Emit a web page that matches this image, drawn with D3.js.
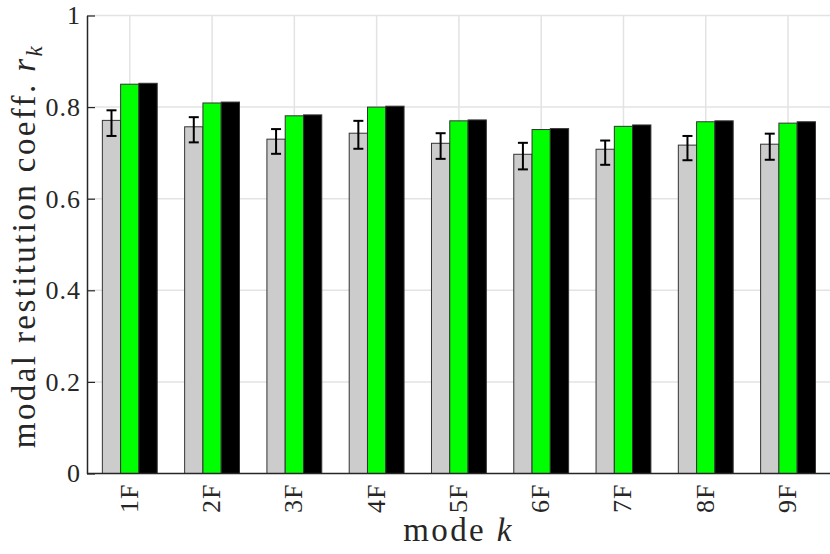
<!DOCTYPE html>
<html>
<head>
<meta charset="utf-8">
<script src="https://cdn.jsdelivr.net/npm/d3@7"></script>
<style>
  html, body { margin: 0; padding: 0; background: #fff; }
  svg { display: block; }
</style>
</head>
<body>
<svg id="chart" width="830" height="554"></svg>
<script>
// ---- data ----
const categories = ["1F", "2F", "3F", "4F", "5F", "6F", "7F", "8F", "9F"];
const grayValues  = [0.771, 0.757, 0.730, 0.743, 0.721, 0.697, 0.708, 0.717, 0.719];
const grayErrLow  = [0.737, 0.723, 0.698, 0.709, 0.687, 0.664, 0.674, 0.684, 0.685];
const grayErrHigh = [0.793, 0.778, 0.752, 0.770, 0.743, 0.722, 0.727, 0.737, 0.742];
const greenValues = [0.850, 0.809, 0.781, 0.800, 0.770, 0.751, 0.758, 0.768, 0.765];
const blackValues = [0.852, 0.811, 0.783, 0.802, 0.772, 0.753, 0.761, 0.770, 0.768];
const yTicks = [0, 0.2, 0.4, 0.6, 0.8, 1];
const yTickLabels = ["0", "0.2", "0.4", "0.6", "0.8", "1"];
const seriesNames = ["gray", "green", "black"];
const seriesColors = ["#cccccc", "#00ff00", "#000000"];

// ---- layout ----
const FONT = "'Liberation Serif', 'Times New Roman', serif";
const mLeft = 87, mRight = 830, mTop = 15.5, mBottom = 473.5;
const svg = d3.select("#chart");

const x = d3.scaleLinear().domain([0.48, 9.51]).range([mLeft, mRight]);
const y = d3.scaleLinear().domain([0, 1]).range([mBottom, mTop]);
const sub = d3.scaleBand().domain(seriesNames).range([-1/3, 1/3]).padding(0);

const series = [grayValues, greenValues, blackValues];

// grid
const grid = svg.append("g");
grid.selectAll("line.h").data(yTicks.filter(t => t > 0)).enter().append("line")
  .attr("x1", mLeft).attr("x2", mRight)
  .attr("y1", d => y(d)).attr("y2", d => y(d))
  .attr("stroke", "#e3e3e3").attr("stroke-width", 1.5);
grid.selectAll("line.v").data(categories).enter().append("line")
  .attr("x1", (d, i) => x(i + 1)).attr("x2", (d, i) => x(i + 1))
  .attr("y1", mTop).attr("y2", mBottom)
  .attr("stroke", "#e3e3e3").attr("stroke-width", 1.5);

// bars
const unit = x(1) - x(0);
seriesNames.forEach((name, s) => {
  svg.append("g").selectAll("rect").data(series[s]).enter().append("rect")
    .attr("x", (d, i) => x(i + 1 + sub(name)))
    .attr("width", sub.bandwidth() * unit)
    .attr("y", d => y(d))
    .attr("height", d => y(0) - y(d))
    .attr("fill", seriesColors[s])
    .attr("stroke", "#333333")
    .attr("stroke-width", 1);
});

// error bars on gray series
const eb = svg.append("g").attr("stroke", "#000").attr("stroke-width", 2);
const cap = 5;
categories.forEach((c, i) => {
  const cx = x(i + 1 + sub("gray") + sub.bandwidth() / 2);
  eb.append("line").attr("x1", cx).attr("x2", cx)
    .attr("y1", y(grayErrLow[i])).attr("y2", y(grayErrHigh[i]));
  eb.append("line").attr("x1", cx - cap).attr("x2", cx + cap)
    .attr("y1", y(grayErrLow[i])).attr("y2", y(grayErrLow[i]));
  eb.append("line").attr("x1", cx - cap).attr("x2", cx + cap)
    .attr("y1", y(grayErrHigh[i])).attr("y2", y(grayErrHigh[i]));
});

// y axis
const yAxis = d3.axisLeft(y).tickValues(yTicks)
  .tickFormat((d, i) => yTickLabels[i]).tickSizeInner(-8).tickSizeOuter(0).tickPadding(6);
const ya = svg.append("g").attr("transform", `translate(${mLeft},0)`).call(yAxis);
ya.select(".domain").attr("stroke", "#262626").attr("stroke-width", 1.5);
ya.selectAll(".tick line").attr("stroke", "#262626").attr("stroke-width", 1.2);
ya.selectAll(".tick text").attr("font-size", 26).attr("fill", "#262626")
  .attr("letter-spacing", 1)
  .style("font-family", FONT);

// x axis
const xa = svg.append("g");
xa.append("line").attr("x1", mLeft).attr("x2", mRight)
  .attr("y1", mBottom).attr("y2", mBottom)
  .attr("stroke", "#262626").attr("stroke-width", 1.5);
xa.selectAll("text").data(categories).enter().append("text")
  .attr("transform", (d, i) => `translate(${x(i + 1) + 8},${mBottom + 10}) rotate(-90)`)
  .attr("text-anchor", "end")
  .attr("font-size", 26)
  .attr("letter-spacing", 1)
  .attr("fill", "#262626")
  .style("font-family", FONT)
  .text(d => d);

// axis labels
const xl = svg.append("text")
  .attr("x", (mLeft + mRight) / 2).attr("y", 541)
  .attr("text-anchor", "middle").attr("font-size", 33)
  .attr("letter-spacing", 2.4)
  .attr("fill", "#262626")
  .style("font-family", FONT);
xl.append("tspan").text("mode ");
xl.append("tspan").attr("font-style", "italic").text("k");

const yl = svg.append("text")
  .attr("transform", `translate(35,246) rotate(-90)`)
  .attr("text-anchor", "middle").attr("font-size", 33)
  .attr("letter-spacing", 2.4)
  .attr("fill", "#262626")
  .style("font-family", FONT);
yl.append("tspan").text("modal restitution coeff. ");
yl.append("tspan").attr("font-style", "italic").text("r");
yl.append("tspan").attr("font-style", "italic").attr("font-size", 23).attr("dy", 7).text("k");
</script>
</body>
</html>
